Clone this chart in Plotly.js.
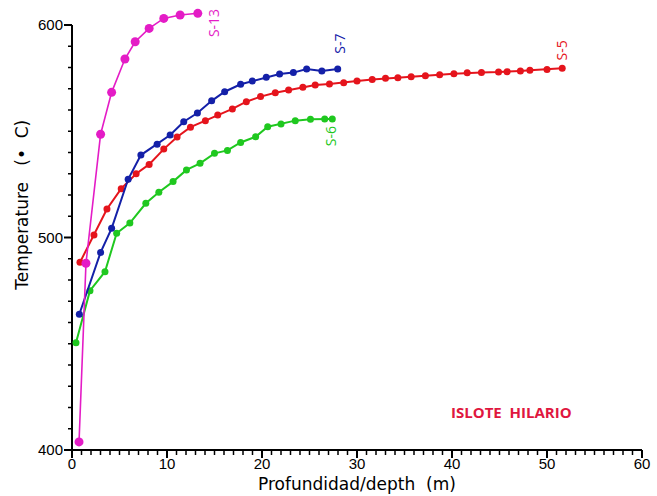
<!DOCTYPE html>
<html>
<head>
<meta charset="utf-8">
<script src="https://cdn.plot.ly/plotly-3.0.1.min.js"></script>
<style>html,body{margin:0;padding:0;background:#fff;}#chart{width:657px;height:496px;}</style>
</head>
<body>
<div id="chart"></div>
<script>
// S-13
const s13Depth = [0.74, 1.47, 3.01, 4.17, 5.57, 6.65, 8.12, 9.66, 11.38, 13.24];
const s13Temp  = [403.8, 487.9, 548.6, 568.3, 584.0, 592.1, 598.4, 603.1, 604.7, 605.5];
// S-7
const s7Depth = [0.77, 3.01, 4.17, 5.91, 7.25, 8.96, 10.33, 11.76, 13.2, 14.7, 16.07, 17.75, 18.98, 20.45, 21.85, 23.3, 24.7, 26.3, 27.97];
const s7Temp  = [463.9, 493.0, 504.3, 527.4, 538.8, 543.9, 548.2, 554.5, 558.6, 564.3, 568.6, 572.1, 573.6, 575.4, 576.9, 577.6, 579.3, 578.4, 579.3];
// S-5
const s5Depth = [0.84, 2.31, 3.68, 5.18, 6.75, 8.12, 9.66, 11.06, 12.47, 14.04, 15.34, 16.88, 18.35, 19.85, 21.4, 22.8, 24.3, 25.6, 27.1, 28.6, 30.0, 31.6, 33.0, 34.3, 35.7, 37.2, 38.7, 40.2, 41.6, 43.1, 44.9, 45.8, 47.2, 48.2, 50.0, 51.6];
const s5Temp  = [488.3, 501.2, 513.4, 523.0, 530.0, 534.4, 541.6, 547.3, 551.9, 555.0, 557.6, 560.5, 563.9, 566.3, 568.1, 569.4, 570.7, 571.8, 572.2, 572.8, 573.6, 574.4, 574.9, 575.2, 575.7, 576.1, 576.6, 577.1, 577.5, 577.7, 577.9, 578.0, 578.4, 578.7, 579.1, 579.6];
// S-6
const s6Depth = [0.42, 1.89, 3.47, 4.7, 6.09, 7.77, 9.14, 10.64, 12.05, 13.48, 15.0, 16.36, 17.75, 19.33, 20.6, 22.0, 23.5, 25.1, 26.6, 27.4];
const s6Temp  = [450.5, 475.0, 483.9, 502.0, 506.8, 516.1, 521.3, 526.3, 531.8, 534.9, 539.6, 541.0, 544.7, 547.4, 552.1, 553.4, 555.0, 555.6, 555.8, 555.8];

const seriesNames = ['S-13', 'S-7', 'S-5', 'S-6'];
const xTickStep = 10, xMinorStep = 1;
const yTickStep = 100, yMinorStep = 10;
const xAxisSpan = [0, 60], yAxisSpan = [400, 600];

const colors = {'S-13': '#e41cc6', 'S-7': '#1420a8', 'S-5': '#e5141c', 'S-6': '#1fc81f'};
const font = 'Liberation Sans, Arial, sans-serif';
const wideFont = 'DejaVu Sans, Liberation Sans, sans-serif';

// pixel geometry: axes drawn inside a slightly larger plot area so ticks are visible
const W = 657, H = 496, M = {l: 64, r: 13, t: 4, b: 38};
const pxPerX = 9.5, pxPerY = 2.125;
const majorLen = 8, xMinorLen = 5, yMinorLen = 4;
const xRange = [xAxisSpan[0] - majorLen / pxPerX, xAxisSpan[0] + (W - M.l - M.r - majorLen) / pxPerX];
const yRange = [yAxisSpan[0] - majorLen / pxPerY, yAxisSpan[0] + (H - M.t - M.b - majorLen) / pxPerY];

function tr(x, y, name, msize, lw) {
  return {x: x, y: y, name: name, type: 'scatter', mode: 'lines+markers',
    line: {color: colors[name], width: lw}, marker: {color: colors[name], size: msize},
    cliponaxis: false, showlegend: false, hoverinfo: 'skip'};
}

// axis lines and tick marks
function segTrace(xs, ys, width) {
  return {x: xs, y: ys, type: 'scatter', mode: 'lines', connectgaps: false,
    line: {color: '#000000', width: width}, showlegend: false, hoverinfo: 'skip'};
}
const axX = [], axY = [];
axX.push(xAxisSpan[0], xAxisSpan[1], null, xAxisSpan[0], xAxisSpan[0]);
axY.push(yAxisSpan[0], yAxisSpan[0], null, yAxisSpan[0], yAxisSpan[1]);
const majX = [], majY = [], minX = [], minY = [];
for (let v = xAxisSpan[0]; v <= xAxisSpan[1] + 1e-9; v += xMinorStep) {
  const major = Math.abs(v % xTickStep) < 1e-9;
  const len = (major ? majorLen : xMinorLen) / pxPerY;
  (major ? majX : minX).push(v, v, null);
  (major ? majY : minY).push(yAxisSpan[0], yAxisSpan[0] - len, null);
}
for (let v = yAxisSpan[0]; v <= yAxisSpan[1] + 1e-9; v += yMinorStep) {
  const major = Math.abs((v - yAxisSpan[0]) % yTickStep) < 1e-9;
  const len = (major ? majorLen : yMinorLen) / pxPerX;
  (major ? majX : minX).push(xAxisSpan[0], xAxisSpan[0] - len, null);
  (major ? majY : minY).push(v, v, null);
}

const data = [
  segTrace(minX, minY, 1.5),
  segTrace(majX, majY, 2),
  segTrace(axX, axY, 2),
  tr(s6Depth, s6Temp, 'S-6', 7, 2),
  tr(s5Depth, s5Temp, 'S-5', 7, 2),
  tr(s7Depth, s7Temp, 'S-7', 7, 2),
  tr(s13Depth, s13Temp, 'S-13', 9, 1.6)
];

const labelAnn = [
  {x: s13Depth[s13Depth.length-1], y: s13Temp[s13Temp.length-1], name: 'S-13', dx: 16, dy: -10},
  {x: s7Depth[s7Depth.length-1], y: s7Temp[s7Temp.length-1], name: 'S-7', dx: 2, dy: 25},
  {x: s5Depth[s5Depth.length-1], y: s5Temp[s5Temp.length-1], name: 'S-5', dx: -1, dy: 18},
  {x: s6Depth[s6Depth.length-1], y: s6Temp[s6Temp.length-1], name: 'S-6', dx: -1, dy: -17}
].map(a => ({x: a.x, y: a.y, xref: 'x', yref: 'y', text: a.name, showarrow: false,
  xshift: a.dx, yshift: a.dy, textangle: -90,
  font: {family: 'Open Sans, Liberation Sans, sans-serif', size: 14, color: colors[a.name]}}));

const layout = {
  width: W, height: H,
  margin: M,
  paper_bgcolor: '#ffffff', plot_bgcolor: '#ffffff',
  font: {family: font, size: 15, color: '#000000'},
  xaxis: {
    range: xRange, tickmode: 'linear', tick0: 0, dtick: xTickStep,
    showgrid: false, zeroline: false, showline: false, ticks: '',
    ticklabelstandoff: -5,
    tickfont: {family: font, size: 15}
  },
  yaxis: {
    range: yRange, tickmode: 'linear', tick0: 400, dtick: yTickStep,
    showgrid: false, zeroline: false, showline: false, ticks: '',
    tickfont: {family: font, size: 15}
  },
  annotations: labelAnn.concat([
    {x: 30, xref: 'x', y: -26 / (H - M.t - M.b), yref: 'paper', yanchor: 'middle',
     text: 'Profundidad/depth  (m)', showarrow: false,
     font: {family: wideFont, size: 17, color: '#000000'}},
    {x: (22 - M.l) / (W - M.l - M.r), xref: 'paper', xanchor: 'center', y: 515, yref: 'y', yanchor: 'middle',
     text: 'Temperature   (\u2022  C)', textangle: -90, showarrow: false,
     font: {family: wideFont, size: 17, color: '#000000'}},
    {x: 46.3, xref: 'x', y: 418, yref: 'y', text: '<b>ISLOTE  HILARIO</b>', showarrow: false,
     font: {family: 'Open Sans, Liberation Sans, sans-serif', size: 15, color: '#e0173f'}}
  ])
};

Plotly.newPlot('chart', data, layout, {displayModeBar: false, staticPlot: true});
</script>
</body>
</html>
